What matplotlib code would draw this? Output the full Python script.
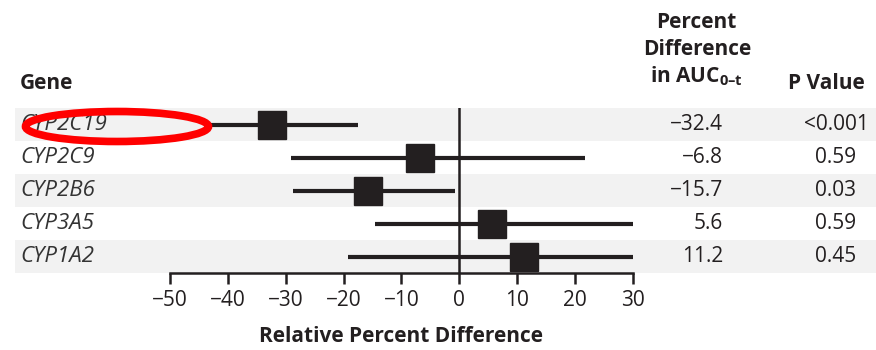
import matplotlib
matplotlib.use("Agg")
import matplotlib.pyplot as plt
from matplotlib.patches import Rectangle, Ellipse
from matplotlib.transforms import blended_transform_factory

plt.rcParams['font.family'] = ['Open Sans', 'DejaVu Sans']
plt.rcParams['mathtext.fontset'] = 'custom'
plt.rcParams['mathtext.rm'] = 'Open Sans'
plt.rcParams['mathtext.bf'] = 'Open Sans:bold'

genes = ["CYP2C19", "CYP2C9", "CYP2B6", "CYP3A5", "CYP1A2"]
estimates = [-32.4, -6.8, -15.7, 5.6, 11.2]
ci_lower = [-44.0, -29.1, -28.7, -14.6, -19.3]
ci_upper = [-17.5, 21.7, -0.7, 30.0, 30.0]
diff_labels = ["\u221232.4", "\u22126.8", "\u221215.7", "5.6", "11.2"]
p_labels = ["<0.001", "0.59", "0.03", "0.59", "0.45"]
xticks = [-50, -40, -30, -20, -10, 0, 10, 20, 30]

W, H = 876, 350
fig = plt.figure(figsize=(W / 100, H / 100), dpi=100)
TXT = '#231f20'

def fx(px):
    return px / W

def fy(py):
    return 1 - py / H

row_top, row_h = 108, 33
n = len(genes)
ax = fig.add_axes([fx(170), fy(row_top + n * row_h), (632.7 - 170) / W, n * row_h / H])
ax.set_xlim(-50, 30)
ax.set_ylim(n - 0.5, -0.5)
ax.patch.set_alpha(0)

trans = blended_transform_factory(fig.transFigure, ax.transData)
for i in range(n):
    if i % 2 == 0:
        ax.add_patch(Rectangle((fx(15), i - 0.5), 1 - fx(15), 1.0, transform=trans,
                               facecolor='#f2f2f2', edgecolor='none', clip_on=False, zorder=0))

ax.axvline(0, color=TXT, lw=1.8, zorder=2)
for i in range(n):
    ax.plot([ci_lower[i], ci_upper[i]], [i, i], color=TXT, lw=3, solid_capstyle='butt', zorder=3)
ax.plot(estimates, range(n), 's', color=TXT, ms=20, mec=TXT, zorder=4, clip_on=False)

for s in ['left', 'right', 'top']:
    ax.spines[s].set_visible(False)
ax.spines['bottom'].set_color(TXT)
ax.spines['bottom'].set_linewidth(1.8)
ax.set_yticks([])
ax.set_xticks(xticks)
ax.set_xticklabels([f"\u2212{abs(t)}" if t < 0 else str(t) for t in xticks])
ax.tick_params(axis='x', direction='out', length=8, width=1.8, color=TXT,
               labelsize=15, labelcolor=TXT, pad=4)
ax.set_xlabel("Relative Percent Difference", fontsize=15, fontweight='bold', color=TXT, labelpad=11)

for i in range(n):
    yc = row_top + (i + 0.5) * row_h
    fig.text(fx(20), fy(yc), genes[i], fontsize=16, style='italic', color='#333333',
             ha='left', va='center')
    fig.text(fx(723), fy(yc), diff_labels[i], fontsize=15, color=TXT, ha='right', va='center')
    fig.text(fx(836), fy(yc), p_labels[i], fontsize=15, color=TXT, ha='center', va='center')

fig.text(fx(20), fy(89), "Gene", fontsize=15, fontweight='bold', color=TXT, ha='left', va='baseline')
fig.text(fx(826), fy(89), "P Value", fontsize=15, fontweight='bold', color=TXT, ha='center', va='baseline')
fig.text(fx(696), fy(28), "Percent", fontsize=15, fontweight='bold', color=TXT, ha='center', va='baseline')
fig.text(fx(697), fy(55), "Difference", fontsize=15, fontweight='bold', color=TXT, ha='center', va='baseline')
fig.text(fx(696), fy(82), "in AUC$_{\\mathbf{0\u2013t}}$", fontsize=15, fontweight='bold', color=TXT,
         ha='center', va='baseline')

ell = Ellipse((fx(117), fy(126.5)), fx(183), 30 / H, transform=fig.transFigure,
              facecolor='none', edgecolor='#ff0000', lw=5.5, zorder=10)
fig.patches.append(ell)

fig.savefig("out.png", dpi=100)
